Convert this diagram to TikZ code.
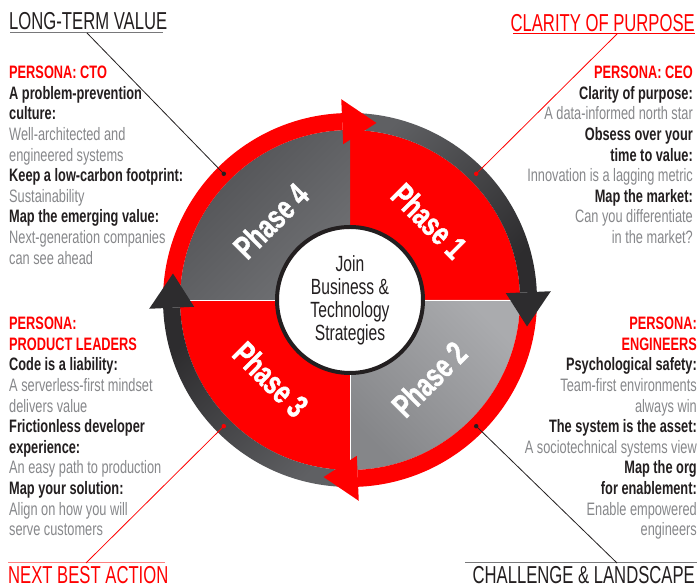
\documentclass[tikz,border=0pt]{standalone}
\usepackage{fontspec}
\setmainfont{Liberation Sans}
\newfontfamily\narrowfont[FakeStretch=0.71]{Liberation Sans}
\newfontfamily\titlefont[FakeStretch=0.68]{Liberation Sans}
\newfontfamily\phasefont[FakeStretch=0.72, FakeBold=1.2]{Liberation Sans Bold}
\usetikzlibrary{calc}
\definecolor{myred}{RGB}{255,0,0}
\definecolor{mydark}{RGB}{35,31,32}
\definecolor{mygray}{RGB}{135,136,139}
\definecolor{rulegray}{RGB}{120,120,122}
\definecolor{ringtop}{RGB}{95,96,99}
\definecolor{ringend}{RGB}{45,44,46}
\definecolor{quadfour}{RGB}{80,81,84}
\definecolor{quadfourlt}{RGB}{112,113,116}
\definecolor{quadtwo}{RGB}{133,134,137}
\definecolor{quadtwolt}{RGB}{170,171,174}
\tikzset{
  heading/.style={font=\titlefont\fontsize{24.5}{24.5}\selectfont, inner sep=0pt, anchor=base west},
  persona/.style={font=\narrowfont\fontsize{18}{20.6}\selectfont, inner sep=0pt},
  phase/.style={font=\phasefont\fontsize{33}{33}\selectfont, text=white},
  hub/.style={circle, draw=mydark, line width=4pt, fill=white, minimum size=146pt,
    inner sep=0pt, align=center, text=mydark,
    font=\narrowfont\fontsize{22}{23}\selectfont},
  dot/.style={circle, inner sep=0pt, minimum size=4.5pt},
  leader/.style={line width=0.8pt},
  underline/.style={line width=1pt}
}
\newcommand{\pname}[1]{{\color{myred}\bfseries #1}}
\newcommand{\pclaim}[1]{{\color{mydark}\bfseries #1}}
\newcommand{\pdetail}[1]{{\color{mygray}#1}}

\begin{document}
\begin{tikzpicture}[x=1pt, y=1pt]
  \fill[white] (0,0) rectangle (699,588);
  \useasboundingbox (0,0) rectangle (699,588);
  % Wheel
  \begin{scope}[shift={(350,288)}]
    % Quadrants
    \fill[myred] (0,0) -- (0:170) arc (0:90:170) -- cycle;
    \shade[top color=quadtwolt, bottom color=quadtwo, shading angle=-45]
      (0,0) -- (-90:170) arc (-90:0:170) -- cycle;
    \fill[myred] (0,0) -- (180:170) arc (180:270:170) -- cycle;
    \shade[top color=quadfour, bottom color=quadfourlt, shading angle=45]
      (0,0) -- (90:170) arc (90:180:170) -- cycle;
    \draw[white, line width=0.6pt] (180:170) -- (0:170);
    \draw[white, line width=0.6pt] (0,0) -- (-90:170);
    % Ring segments
    \fill[myred] (180:187) arc (180:92.5:187) -- (92.5:170) arc (92.5:180:170) -- cycle;
    \shade[top color=ringtop, bottom color=ringend, shading angle=45]
      (90:187) arc (90:2.5:187) -- (2.5:170) arc (2.5:90:170) -- cycle;
    \fill[myred] (0:187) arc (0:-87.5:187) -- (-87.5:170) arc (-87.5:0:170) -- cycle;
    \shade[top color=ringend, bottom color=ringtop, shading angle=45]
      (-90:187) arc (-90:-177.5:187) -- (-177.5:170) arc (-177.5:-90:170) -- cycle;
    % Arrow heads
    \fill[myred] (92.5:156) -- (92.5:201) -- (81.5:179) -- cycle;
    \fill[ringend] (2.5:156) -- (2.5:201) -- (-8.5:179) -- cycle;
    \fill[myred] (-87.5:156) -- (-87.5:201) -- (-98.5:179) -- cycle;
    \fill[ringend] (182.5:156) -- (182.5:201) -- (171.5:179) -- cycle;
    % Hub
    \node[hub] (hub) at (0,0) {Join\\Business \&\\Technology\\Strategies};
    % Phase labels
    \node[phase, rotate=-45] (ph1) at (45:112) {Phase 1};
    \node[phase, rotate=45] (ph2) at (-45:112) {Phase 2};
    \node[phase, rotate=-45] (ph3) at (225:112) {Phase 3};
    \node[phase, rotate=45] (ph4) at (135:112) {Phase 4};
    % Leader dots
    \node[dot, fill=mydark] (ltvdot) at (135:178.5) {};
    \node[dot, fill=myred] (copdot) at (45:178.5) {};
    \node[dot, fill=myred] (nbadot) at (225:178.5) {};
    \node[dot, fill=mydark] (chldot) at (-45:178.5) {};
  \end{scope}

  % Corner headings
  \node[heading, text=mydark] (ltv) at (9,558) {LONG-TERM VALUE};
  \node[heading, text=myred, anchor=base east] (cop) at (695,556) {CLARITY OF PURPOSE};
  \node[heading, text=myred] (nba) at (8,4) {NEXT BEST ACTION};
  \node[heading, text=mydark, anchor=base east] (chl) at (695,4) {CHALLENGE \& LANDSCAPE};
  \draw[underline, rulegray] (10,555) -- (163,555);
  \draw[underline, myred] (513,554) -- (695,554);
  \draw[underline, myred!50] (8,25) -- (165,25);
  \draw[underline, rulegray] (465,25) -- (697,25);
  \coordinate (ltvfoot) at (87,555);
  \coordinate (copfoot) at (617,554);
  \coordinate (nbafoot) at (86,25);
  \coordinate (chlfoot) at (617,25);
  \draw[leader, mydark] (ltvfoot) -- (ltvdot);
  \draw[leader, myred] (copfoot) -- (copdot);
  \draw[leader, myred] (nbafoot) -- (nbadot);
  \draw[leader, mydark] (chlfoot) -- (chldot);

  % Persona blocks
  \node[persona, anchor=north west, align=left] (cto) at (9,522)
    {\pname{PERSONA: CTO}\\ \pclaim{A problem-prevention}\\ \pclaim{culture:}\\
     \pdetail{Well-architected and}\\ \pdetail{engineered systems}\\
     \pclaim{Keep a low-carbon footprint:}\\ \pdetail{Sustainability}\\
     \pclaim{Map the emerging value:}\\ \pdetail{Next-generation companies}\\
     \pdetail{can see ahead}};
  \node[persona, anchor=north east, align=right] (ceo) at (693,522)
    {\pname{PERSONA: CEO}\\ \pclaim{Clarity of purpose:}\\
     \pdetail{A data-informed north star}\\ \pclaim{Obsess over your}\hspace*{5pt}\\
     \pclaim{time to value:}\\ \pdetail{Innovation is a lagging metric}\\
     \pclaim{Map the market:}\\ \pdetail{Can you differentiate}\hspace*{5pt}\\
     \pdetail{in the market?}};
  \node[persona, anchor=north west, align=left] (prod) at (9,271)
    {\pname{PERSONA:}\\ \pname{PRODUCT LEADERS}\\ \pclaim{Code is a liability:}\\
     \pdetail{A serverless-first mindset}\\ \pdetail{delivers value}\\
     \pclaim{Frictionless developer}\\ \pclaim{experience:}\\
     \pdetail{An easy path to production}\\ \pclaim{Map your solution:}\\
     \pdetail{Align on how you will}\\ \pdetail{serve customers}};
  \node[persona, anchor=north east, align=right] (eng) at (697,271)
    {\pname{PERSONA:}\\ \pname{ENGINEERS}\\ \pclaim{Psychological safety:}\\
     \pdetail{Team-first environments}\hspace*{5pt}\\ \pdetail{always win}\\
     \pclaim{The system is the asset:}\\ \pdetail{A sociotechnical systems view}\\
     \pclaim{Map the org}\hspace*{5pt}\\ \pclaim{for enablement:}\\
     \pdetail{Enable empowered}\\ \pdetail{engineers}};
\end{tikzpicture}
\end{document}
